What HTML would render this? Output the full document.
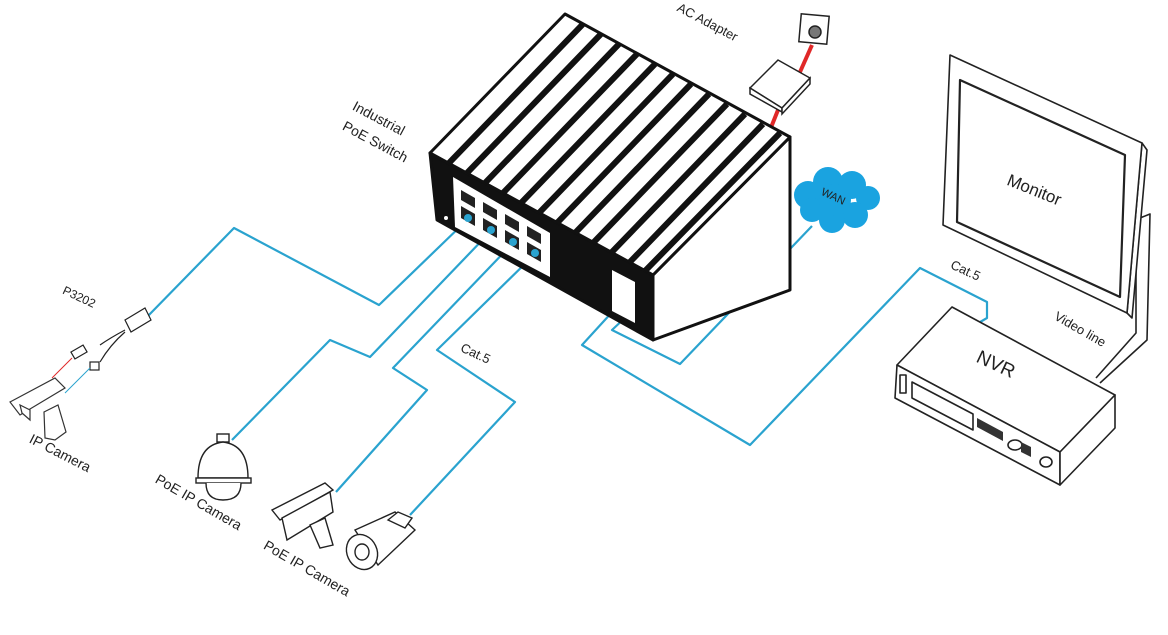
<!DOCTYPE html>
<html><head><meta charset="utf-8"><style>
html,body{margin:0;padding:0;background:#fff;}
svg{display:block;}
text{font-family:"Liberation Sans",sans-serif;fill:#222;}
</style></head><body>
<svg width="1168" height="635" viewBox="0 0 1168 635" xmlns="http://www.w3.org/2000/svg">
<rect width="1168" height="635" fill="#fff"/>
<!-- cables -->
<g fill="none" stroke="#2aa3cf" stroke-width="2.2" stroke-linejoin="round">
<polyline points="467,220 379,305 234,228 146,318"/>
<polyline points="491,231 370,357 330,340 232,440"/>
<polyline points="513,243 393,368 427,390 336,492"/>
<polyline points="535,254 437,350 515,402 410,515"/>
<polyline points="614,310 582,345 750,445 920,268 987,302 987,318 975,325"/>
<polyline points="628,315 612,330 680,364 812,226"/>
</g>
<!-- AC adapter -->
<polyline points="770,130 782,100" stroke="#e02828" stroke-width="4" fill="none"/>
<polyline points="800,72 812,45" stroke="#e02828" stroke-width="4" fill="none"/>
<g stroke="#222" stroke-width="1.5" fill="#fff">
<polygon points="750,88 778,60 810,78 782,108"/>
<polygon points="750,88 782,108 782,112 750,94"/>
<polygon points="782,108 810,78 810,84 782,114"/>
<rect x="800" y="15" width="28" height="28" transform="rotate(5 814 29)"/>
<circle cx="815" cy="32" r="6" fill="#777"/>
</g>
<!-- switch -->
<g stroke="#111" stroke-width="3" stroke-linejoin="round">
<polygon points="430,153 653,275 653,340 437,220" fill="#111"/>
<polygon points="653,275 790,137 790,290 653,340" fill="#fff"/>
<polygon points="565,14 790,137 653,275 430,153" fill="#fff"/>
</g>
<g stroke="#111" stroke-width="6">
<line x1="449" y1="163" x2="583" y2="24"/>
<line x1="467" y1="173" x2="601" y2="34"/>
<line x1="485" y1="183" x2="619" y2="44"/>
<line x1="503" y1="193" x2="637" y2="54"/>
<line x1="521" y1="203" x2="655" y2="64"/>
<line x1="539" y1="213" x2="673" y2="74"/>
<line x1="557" y1="223" x2="691" y2="84"/>
<line x1="575" y1="233" x2="709" y2="94"/>
<line x1="593" y1="243" x2="727" y2="104"/>
<line x1="611" y1="253" x2="745" y2="114"/>
<line x1="629" y1="263" x2="763" y2="124"/>
<line x1="645" y1="271" x2="780" y2="133"/>
</g>
<polygon points="453,177 550,233 550,277 455,227" fill="#fff"/>
<g fill="#222">
<polygon points="461,190 475,198 475,208 461,200"/><polygon points="483,202 497,210 497,220 483,212"/><polygon points="505,214 519,222 519,232 505,224"/><polygon points="527,226 541,234 541,244 527,236"/>
<polygon points="461,206 475,214 475,226 461,218"/><polygon points="483,218 497,226 497,238 483,230"/><polygon points="505,230 519,238 519,250 505,242"/><polygon points="527,242 541,250 541,262 527,254"/>
</g>
<g fill="#2aa3cf"><circle cx="468" cy="218" r="4"/><circle cx="491" cy="230" r="4"/><circle cx="513" cy="242" r="4"/><circle cx="535" cy="253" r="4"/></g>
<polygon points="612,270 635,282 635,323 612,311" fill="#fff"/>
<circle cx="446" cy="218" r="2" fill="#fff"/>
<!-- WAN cloud -->
<g fill="#1aa3e0">
<circle cx="808" cy="195" r="14"/><circle cx="828" cy="182" r="15"/><circle cx="852" cy="185" r="14"/><circle cx="868" cy="198" r="12"/><circle cx="855" cy="215" r="13"/><circle cx="832" cy="220" r="13"/><circle cx="812" cy="210" r="12"/><circle cx="835" cy="200" r="16"/>
</g>
<text x="820" y="200" font-size="11" transform="rotate(25 833 198)" fill="#123">WAN</text>
<!-- monitor -->
<g stroke="#222" stroke-width="1.6" fill="#fff" stroke-linejoin="round">
<polyline points="1140,218 1150,214 1147,340 1100,383" fill="none"/>
<polyline points="1136,225 1136,333 1096,378" fill="none"/>
<polygon points="1142,143 1147,150 1132,318 1127,313"/>
<polygon points="950,55 1142,143 1127,313 943,225"/>
<polygon points="960,80 1125,155 1120,297 957,222" stroke-width="2.2"/>
</g>
<text x="1000" y="195" font-size="17" transform="rotate(22 1030 205)">Monitor</text>
<!-- NVR -->
<g stroke="#222" stroke-width="1.6" fill="#fff" stroke-linejoin="round">
<polygon points="952,307 1115,395 1060,452 897,365"/>
<polygon points="897,365 1060,452 1060,485 895,398"/>
<polygon points="1115,395 1115,428 1060,485 1060,452"/>
<polygon points="912,382 973,414 973,430 912,398" fill="none"/>
<rect x="900" y="375" width="6" height="18" fill="none"/>
<ellipse cx="1015" cy="445" rx="7" ry="5"/>
<ellipse cx="1046" cy="462" rx="6" ry="5"/>
</g>
<g fill="#333"><polygon points="977,418 1003,432 1003,441 977,427"/><polygon points="1021,442 1031,447 1031,457 1021,452"/></g>
<text x="975" y="368" font-size="19" transform="rotate(25 990 365)">NVR</text>
<text x="948" y="275" font-size="13" transform="rotate(25 965 275)">Cat.5</text>
<text x="1045" y="330" font-size="13" transform="rotate(30 1070 340)">Video line</text>
<!-- labels -->
<text x="345" y="125" font-size="14" transform="rotate(28 380 130)">Industrial</text>
<text x="335" y="145" font-size="14" transform="rotate(28 370 150)">PoE Switch</text>
<text x="665" y="25" font-size="13" transform="rotate(28 700 40)">AC Adapter</text>
<text x="458" y="358" font-size="13" transform="rotate(25 475 358)">Cat.5</text>
<text x="58" y="300" font-size="12" transform="rotate(25 75 305)">P3202</text>
<text x="18" y="455" font-size="14" transform="rotate(27 50 470)">IP Camera</text>
<text x="140" y="505" font-size="14" transform="rotate(30 190 520)">PoE IP Camera</text>
<text x="246" y="570" font-size="14" transform="rotate(30 295 590)">PoE IP Camera</text>
<!-- P3202 splitter -->
<g stroke="#222" stroke-width="1.2" fill="#fff">
<polygon points="125,320 145,308 151,320 131,332"/>
<path d="M125,330 Q110,338 100,345 M125,332 Q110,345 100,362" fill="none"/>
<rect x="72" y="348" width="14" height="8" transform="rotate(-30 79 352)"/>
<rect x="90" y="362" width="9" height="8"/>
</g>
<line x1="52" y1="378" x2="72" y2="358" stroke="#e02828" stroke-width="1"/>
<line x1="65" y1="393" x2="90" y2="368" stroke="#2aa3cf" stroke-width="1"/>
<!-- IP camera left -->
<g stroke="#333" stroke-width="1.2" fill="#fff">
<polygon points="10,402 55,378 65,388 20,415"/>
<polygon points="20,405 22,413 30,420 30,410"/>
<polygon points="44,412 58,405 66,432 55,440 45,438"/>
</g>
<!-- dome camera -->
<g stroke="#222" stroke-width="1.4" fill="#fff">
<rect x="217" y="434" width="12" height="8"/>
<path d="M198,478 Q198,445 223,442 Q248,445 248,478 Z"/>
<rect x="196" y="478" width="55" height="5"/>
<path d="M206,483 Q206,500 223,500 Q241,500 241,483"/>
</g>
<!-- box camera -->
<g stroke="#222" stroke-width="1.4" fill="#fff">
<polygon points="272,510 325,483 333,490 280,520"/>
<polygon points="282,518 330,492 333,512 287,540"/>
<polygon points="310,525 325,518 333,545 320,548"/>
</g>
<!-- bullet camera -->
<g stroke="#222" stroke-width="1.4" fill="#fff">
<polygon points="355,530 395,512 415,530 378,565"/>
<polygon points="388,520 398,512 412,518 405,528"/>
<ellipse cx="362" cy="552" rx="15" ry="18" transform="rotate(-25 362 552)"/>
<ellipse cx="362" cy="552" rx="7" ry="8"/>
</g>
</svg>
</body></html>
